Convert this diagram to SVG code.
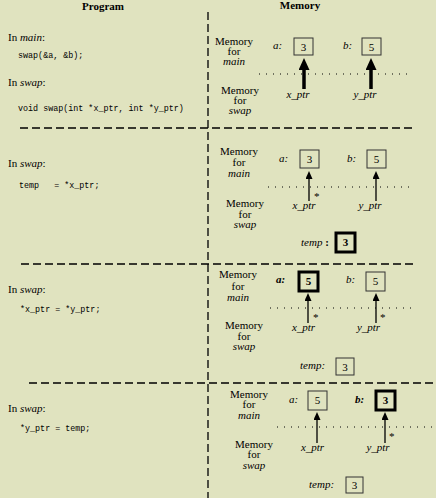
<svg xmlns="http://www.w3.org/2000/svg" width="436" height="498" viewBox="0 0 436 498">
<style>
.t{font-family:"Liberation Serif","Times New Roman",serif;font-size:11px;fill:#000}
.h{font-weight:bold}
.i{font-style:italic}
.b{font-weight:bold}
.c{font-family:"Liberation Mono","Courier New",monospace;font-size:8.4px;fill:#000}
.m{text-anchor:middle}
.dash{stroke:#000;stroke-width:1.3;stroke-dasharray:8 4;fill:none}
.dot{stroke:#000;stroke-width:1;stroke-dasharray:1 6;fill:none}
.box{fill:none;stroke:#333;stroke-width:1}
.tbox{fill:none;stroke:#000;stroke-width:3}
.thin{stroke:#000;stroke-width:1.3;marker-end:url(#ah)}
.thick{stroke:#000;stroke-width:3.5;marker-end:url(#ahb)}
</style>
<defs>
<marker id="ah" markerUnits="userSpaceOnUse" markerWidth="8" markerHeight="7" viewBox="0 0 8 7" refX="0" refY="3.5" orient="auto"><path d="M0,0 L8,3.5 L0,7 z" fill="#000"/></marker>
<marker id="ahb" markerUnits="userSpaceOnUse" markerWidth="12" markerHeight="11" viewBox="0 0 12 11" refX="0" refY="5.5" orient="auto"><path d="M0,0 L12,5.5 L0,11 z" fill="#000"/></marker>
</defs>
<rect width="436" height="498" fill="#E0E3BF"/>

<g id="headers">
<text class="t h m" x="103" y="10">Program</text>
<text class="t h m" x="300" y="9">Memory</text>
</g>

<g id="dividers">
<line class="dash" x1="208" y1="12" x2="208" y2="498"/>
<line class="dash" x1="20" y1="128" x2="412" y2="128"/>
<line class="dash" x1="21" y1="264" x2="413" y2="264"/>
<line class="dash" x1="29" y1="383" x2="433" y2="383"/>
</g>

<g id="program1">
<text class="t" x="8" y="41">In <tspan class="i">main</tspan>:</text>
<text class="c" x="18" y="58">swap(&amp;a, &amp;b);</text>
<text class="t" x="8" y="86">In <tspan class="i">swap</tspan>:</text>
<text class="c" x="18" y="111">void swap(int *x_ptr, int *y_ptr)</text>
</g>
<g id="program2">
<text class="t" x="8" y="167">In <tspan class="i">swap</tspan>:</text>
<text class="c" x="19" y="188" xml:space="preserve">temp   = *x_ptr;</text>
</g>
<g id="program3">
<text class="t" x="8" y="293">In <tspan class="i">swap</tspan>:</text>
<text class="c" x="20" y="312">*x_ptr = *y_ptr;</text>
</g>
<g id="program4">
<text class="t" x="8" y="412">In <tspan class="i">swap</tspan>:</text>
<text class="c" x="20" y="431">*y_ptr = temp;</text>
</g>

<!-- Section 1 memory -->
<g id="mem1">
<text class="t m" x="234" y="45">Memory</text>
<text class="t m" x="234" y="55">for</text>
<text class="t i m" x="234" y="65">main</text>
<text class="t i" x="273" y="49">a:</text>
<rect class="box" x="294" y="38" width="19" height="17"/>
<text class="t m" x="303.5" y="51">3</text>
<text class="t i" x="343" y="49">b:</text>
<rect class="box" x="362" y="38" width="19" height="17"/>
<text class="t m" x="371.5" y="51">5</text>
<line class="dot" x1="259" y1="74" x2="408" y2="74"/>
<text class="t m" x="240" y="94">Memory</text>
<text class="t m" x="240" y="104">for</text>
<text class="t i m" x="240" y="114">swap</text>
<text class="t i m" x="298" y="98">x_ptr</text>
<text class="t i m" x="365" y="98">y_ptr</text>
</g>

<!-- Section 2 memory -->
<g id="mem2">
<text class="t m" x="239" y="155">Memory</text>
<text class="t m" x="239" y="166">for</text>
<text class="t i m" x="239" y="177">main</text>
<text class="t i" x="279" y="162">a:</text>
<rect class="box" x="300" y="150" width="19" height="18"/>
<text class="t m" x="309.5" y="163">3</text>
<text class="t i" x="347" y="162">b:</text>
<rect class="box" x="367" y="150" width="19" height="18"/>
<text class="t m" x="376.5" y="163">5</text>
<line class="dot" x1="268" y1="187" x2="413" y2="187"/>
<text class="t" x="314" y="200">*</text>
<text class="t m" x="245" y="207">Memory</text>
<text class="t m" x="245" y="218">for</text>
<text class="t i m" x="245" y="228">swap</text>
<text class="t i m" x="304" y="209">x_ptr</text>
<text class="t i m" x="370" y="209">y_ptr</text>
<text class="t" x="301" y="246"><tspan class="i">temp</tspan> <tspan class="b">:</tspan></text>
<rect class="tbox" x="336" y="233" width="19" height="19"/>
<text class="t b m" x="345.5" y="246">3</text>
</g>

<!-- Section 3 memory -->
<g id="mem3">
<text class="t m" x="238" y="278">Memory</text>
<text class="t m" x="238" y="290">for</text>
<text class="t i m" x="238" y="301">main</text>
<text class="t i b" x="276" y="283">a:</text>
<rect class="tbox" x="299" y="272" width="19" height="19"/>
<text class="t b m" x="308.5" y="285">5</text>
<text class="t i" x="346" y="283">b:</text>
<rect class="box" x="366" y="272" width="19" height="19"/>
<text class="t m" x="375.5" y="285">5</text>
<line class="dot" x1="270" y1="308" x2="412" y2="308"/>
<text class="t" x="313" y="321">*</text>
<text class="t" x="380" y="321">*</text>
<text class="t m" x="244" y="329">Memory</text>
<text class="t m" x="244" y="340">for</text>
<text class="t i m" x="244" y="350">swap</text>
<text class="t i m" x="303.5" y="331">x_ptr</text>
<text class="t i m" x="368.5" y="331">y_ptr</text>
<text class="t i" x="300" y="369">temp:</text>
<rect class="box" x="336" y="358" width="18" height="17"/>
<text class="t m" x="345" y="371">3</text>
</g>

<!-- Section 4 memory -->
<g id="mem4">
<text class="t m" x="249" y="398">Memory</text>
<text class="t m" x="249" y="408">for</text>
<text class="t i m" x="249" y="419">main</text>
<text class="t i" x="289" y="403">a:</text>
<rect class="box" x="308" y="391" width="19" height="19"/>
<text class="t m" x="317.5" y="404">5</text>
<text class="t i b" x="355" y="403">b:</text>
<rect class="tbox" x="376" y="391" width="19" height="19"/>
<text class="t b m" x="385.5" y="404">3</text>
<line class="dot" x1="277" y1="427" x2="432" y2="427"/>
<text class="t" x="389" y="440">*</text>
<text class="t m" x="254" y="448">Memory</text>
<text class="t m" x="254" y="458">for</text>
<text class="t i m" x="254" y="469">swap</text>
<text class="t i m" x="312.5" y="451">x_ptr</text>
<text class="t i m" x="378" y="451">y_ptr</text>
<text class="t i" x="309" y="488">temp:</text>
<rect class="box" x="346" y="477" width="17" height="16"/>
<text class="t m" x="354.5" y="489">3</text>
</g>

<g id="connectors">
<line class="thick" x1="304" y1="89" x2="304" y2="70"/>
<line class="thick" x1="371" y1="89" x2="371" y2="70"/>
<line class="thin" x1="309" y1="201" x2="309" y2="179"/>
<line class="thin" x1="376" y1="201" x2="376" y2="179"/>
<line class="thin" x1="308" y1="323" x2="308" y2="301"/>
<line class="thin" x1="376" y1="323" x2="376" y2="301"/>
<line class="thin" x1="317" y1="443" x2="317" y2="420"/>
<line class="thin" x1="385" y1="443" x2="385" y2="420"/>
</g>
</svg>
